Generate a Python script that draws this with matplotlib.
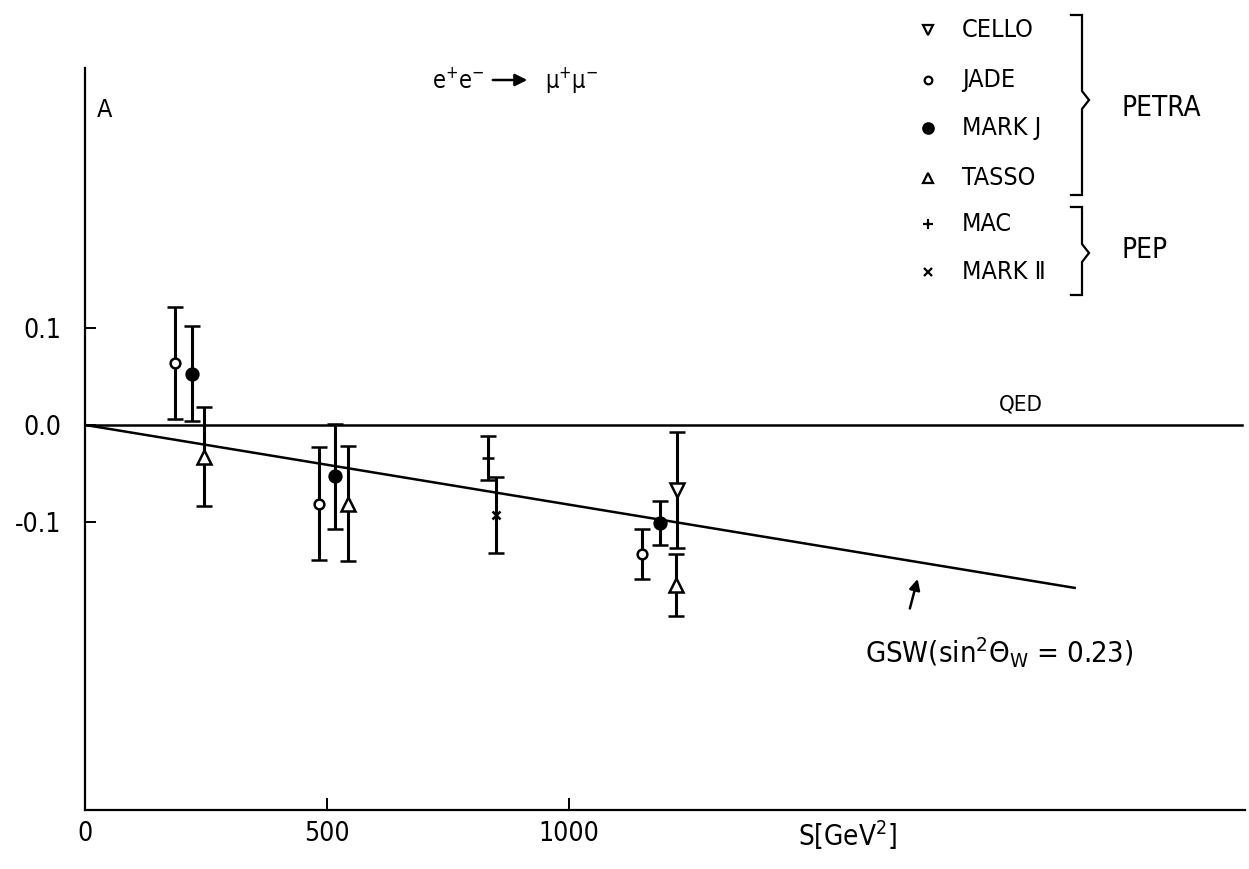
import matplotlib
matplotlib.use("Agg")
import matplotlib.pyplot as plt

# forward-backward asymmetry A vs s, e+e- -> mu+mu-
cello_s = [1224]
cello_A = [-0.067]
cello_err = [0.060]

jade_s = [185, 484, 1152]
jade_A = [0.064, -0.081, -0.133]
jade_err = [0.058, 0.058, 0.026]

markj_s = [222, 517, 1188]
markj_A = [0.053, -0.053, -0.101]
markj_err = [0.049, 0.054, 0.023]

tasso_s = [245, 544, 1221]
tasso_A = [-0.033, -0.081, -0.165]
tasso_err = [0.051, 0.059, 0.032]

mac_s = [832]
mac_A = [-0.034]
mac_err = [0.023]

mark2_s = [849]
mark2_A = [-0.093]
mark2_err = [0.039]

# theory curves
qed_s = [0, 2390]
qed_A = [0.0, 0.0]
gsw_s = [0, 2045]
gsw_A = [0.0, -0.168]

legend_labels = ['CELLO', 'JADE', 'MARK J', 'TASSO', 'MAC', 'MARK Ⅱ']
x_ticks = [0, 500, 1000]
y_ticks = [0.1, 0.0, -0.1]
y_ticklabels = ['0.1', '0.0', '-0.1']

plt.rcParams['font.family'] = ['DejaVu Sans']
plt.rcParams['font.stretch'] = 'condensed'

W, H = 1249, 869
fig = plt.figure(figsize=(W / 100, H / 100), dpi=100)
fig.patch.set_facecolor('white')

# main axes placed to match the scan
ax = fig.add_axes([85 / W, (H - 810) / H, (1245 - 85) / W, (810 - 68) / H])
ax.set_xlim(0, 2397)
ax.set_ylim(-0.397, 0.368)
for side in ['top', 'right']:
    ax.spines[side].set_visible(False)
for side in ['left', 'bottom']:
    ax.spines[side].set_linewidth(1.6)

ax.set_xticks(x_ticks)
ax.set_xticklabels([str(t) for t in x_ticks])
ax.set_yticks(y_ticks)
ax.set_yticklabels(y_ticklabels)
ax.tick_params(axis='x', direction='in', length=9, width=1.4, pad=8, labelsize=19)
ax.tick_params(axis='y', direction='in', length=8, width=1.4, pad=17, labelsize=19)

# theory lines
ax.plot(qed_s, qed_A, color='black', lw=1.8, zorder=2)
ax.plot(gsw_s, gsw_A, color='black', lw=1.8, zorder=2)

eb = dict(ecolor='black', elinewidth=2.2, capsize=5.5, capthick=2.2,
          mec='black', mew=1.8, linestyle='none', zorder=3)
ax.errorbar(cello_s, cello_A, yerr=cello_err, marker='v', ms=10, mfc='white', **eb)
ax.errorbar(jade_s, jade_A, yerr=jade_err, marker='o', ms=7, mfc='white', **eb)
ax.errorbar(markj_s, markj_A, yerr=markj_err, marker='o', ms=8.5, mfc='black', **eb)
ax.errorbar(tasso_s, tasso_A, yerr=tasso_err, marker='^', ms=10, mfc='white', **eb)
ax.errorbar(mac_s, mac_A, yerr=mac_err, marker='+', ms=8, mfc='black', **eb)
ax.errorbar(mark2_s, mark2_A, yerr=mark2_err, marker='x', ms=6, mfc='black', **eb)

# labels
ax.text(1576, -0.405, 'S[GeV$^{2}$]', ha='center', va='top', fontsize=20)
ax.text(24, 0.325, 'A', ha='left', va='center', fontsize=18)
ax.text(1934, 0.011, 'QED', ha='center', va='bottom', fontsize=16)
ax.text(1612, -0.235, r'GSW(sin$^{2}\Theta_{\mathrm{W}}$ = 0.23)', ha='left', va='center', fontsize=21)
ax.annotate('', xy=(1722, -0.156), xytext=(1703, -0.192),
            arrowprops=dict(arrowstyle='-|>', lw=1.8, color='black', mutation_scale=16))

# overlay in pixel coordinates for legend and reaction label
ov = fig.add_axes([0, 0, 1, 1])
ov.set_xlim(0, W)
ov.set_ylim(H, 0)
ov.axis('off')

ov.text(432, 88, 'e$^{+}$e$^{-}$', ha='left', va='baseline', fontsize=17)
ov.annotate('', xy=(530, 80), xytext=(490, 80),
            arrowprops=dict(arrowstyle='-|>', lw=1.8, color='black', mutation_scale=18))
ov.text(545, 88, 'μ$^{+}$μ$^{-}$', ha='left', va='baseline', fontsize=17)

leg_y = [30, 80, 128, 178, 224, 272]
leg_mk = [('v', 7, 'white'), ('o', 5.5, 'white'), ('o', 7.5, 'black'),
          ('^', 7, 'white'), ('+', 7, 'black'), ('x', 5.5, 'black')]
for y, (m, s, fc), lab in zip(leg_y, leg_mk, legend_labels):
    ov.plot([928], [y], marker=m, ms=s, mfc=fc, mec='black', mew=1.6, linestyle='none')
    ov.text(962, y, lab, ha='left', va='center', fontsize=18)


def brace(top, mid, bot):
    xs = [1071, 1082, 1082, 1089, 1082, 1082, 1071]
    ys = [top, top, mid - 9, mid, mid + 9, bot, bot]
    ov.plot(xs, ys, color='black', lw=1.6, solid_joinstyle='miter')


brace(15, 100, 195)
brace(207, 253, 295)
ov.text(1122, 108, 'PETRA', ha='left', va='center', fontsize=20)
ov.text(1122, 250, 'PEP', ha='left', va='center', fontsize=20)

fig.savefig('out.png', dpi=100, facecolor='white')
